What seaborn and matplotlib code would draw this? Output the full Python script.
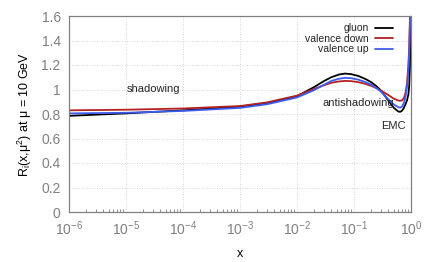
import matplotlib
matplotlib.use("Agg")
import matplotlib.pyplot as plt
import seaborn as sns
import pandas as pd
import numpy as np
from matplotlib.ticker import FixedLocator, FuncFormatter

sns.set_style("white")
plt.rcParams['font.family'] = ['Liberation Sans', 'DejaVu Sans']
plt.rcParams['mathtext.fontset'] = 'custom'
plt.rcParams['mathtext.rm'] = 'Liberation Sans'
plt.rcParams['mathtext.it'] = 'Liberation Sans:italic'

x_vals = [1e-6, 1e-5, 1e-4, 1e-3, 3e-3, 1e-2, 2e-2, 3e-2, 4e-2, 5.5e-2, 7e-2, 9e-2, 0.12, 0.16,
          0.2, 0.25, 0.3, 0.4, 0.5, 0.6, 0.65, 0.7, 0.75, 0.8, 0.85, 0.9, 0.93, 0.96, 0.98, 0.995]
gluon = [0.785, 0.805, 0.83, 0.86, 0.89, 0.945, 1.02, 1.07, 1.10, 1.123, 1.13, 1.125, 1.11, 1.085,
         1.06, 1.025, 0.99, 0.91, 0.85, 0.82, 0.818, 0.828, 0.85, 0.88, 0.91, 0.96, 1.03, 1.2, 1.45, 1.9]
valence_down = [0.83, 0.835, 0.845, 0.865, 0.895, 0.95, 1.005, 1.035, 1.055, 1.066, 1.07, 1.068, 1.06, 1.045,
                1.03, 1.01, 0.99, 0.955, 0.925, 0.91, 0.908, 0.912, 0.93, 0.97, 1.05, 1.2, 1.35, 1.6, 1.9, 2.3]
valence_up = [0.805, 0.81, 0.825, 0.85, 0.88, 0.935, 0.995, 1.04, 1.07, 1.088, 1.095, 1.092, 1.08, 1.06,
              1.04, 1.01, 0.98, 0.92, 0.877, 0.855, 0.852, 0.862, 0.89, 0.94, 1.02, 1.16, 1.3, 1.55, 1.85, 2.2]
series_names = ["gluon", "valence down", "valence up"]
colors = ["#000000", "#b22222", "#3c5cf0"]
y_ticks = [0, 0.2, 0.4, 0.6, 0.8, 1.0, 1.2, 1.4, 1.6]
x_ticks = [1e-6, 1e-5, 1e-4, 1e-3, 1e-2, 1e-1, 1e0]

df = pd.DataFrame({
    "x": x_vals * 3,
    "R": gluon + valence_down + valence_up,
    "series": sum([[n] * len(x_vals) for n in series_names], []),
})

fig = plt.figure(figsize=(4.36, 2.62), dpi=100)
ax = fig.add_axes([69/436, 1 - 212/262, (411-69)/436, (212-16)/262])
sns.lineplot(data=df, x="x", y="R", hue="series", palette=dict(zip(series_names, colors)),
             ax=ax, linewidth=1.3, legend=False, sort=False)
ax.set_xscale("log")
ax.set_xlim(1e-6, 1e0)
ax.set_ylim(0, 1.6)

gray = "#808080"
ax.yaxis.set_major_locator(FixedLocator(y_ticks))
ax.yaxis.set_major_formatter(FuncFormatter(lambda v, p: ("%g" % v)))
ax.xaxis.set_major_locator(FixedLocator(x_ticks))
ax.xaxis.set_major_formatter(FuncFormatter(lambda v, p: r"$10^{%d}$" % int(round(np.log10(v)))))
minor = [m * d for d in x_ticks[:-1] for m in range(2, 10)]
ax.xaxis.set_minor_locator(FixedLocator(minor))
ax.tick_params(axis="both", which="both", direction="in", colors=gray, labelsize=10)
ax.tick_params(axis="y", pad=6)
ax.tick_params(axis="x", pad=5.5)
ax.tick_params(axis="both", which="major", length=4, width=0.6)
ax.tick_params(axis="x", which="minor", length=2.5, width=0.6, bottom=True)
ax.tick_params(top=False, right=False)
ax.grid(True, which="major", color="#c8c8c8", linestyle=(0, (1, 2)), linewidth=0.6)
for s in ax.spines.values():
    s.set_color(gray)
    s.set_linewidth(0.9)

ax.set_xlabel("x", fontsize=9, color="black", labelpad=7)
ax.set_ylabel(r"R$_\mathregular{i}$(x,$\mathregular{\mu^2}$) at $\mathregular{\mu}$ = 10 GeV",
              fontsize=9, color="black", labelpad=5)

ax.text(3e-5, 1.0, "shadowing", fontsize=8, ha="center", va="center")
ax.text(0.12, 0.89, "antishadowing", fontsize=8, ha="center", va="center")
ax.text(0.5, 0.7, "EMC", fontsize=8, ha="center", va="center")

handles = [plt.Line2D([], [], color=c, linewidth=1.3) for c in colors]
leg = ax.legend(handles, series_names, loc="upper right", frameon=False, fontsize=7.5,
                markerfirst=False, handlelength=1.8, handletextpad=0.6, labelspacing=0.05,
                borderaxespad=0.3, bbox_to_anchor=(0.97, 1.0))
for t in leg.get_texts():
    t.set_ha("right")
leg._legend_box.align = "right"

fig.savefig("out.png", dpi=100)
